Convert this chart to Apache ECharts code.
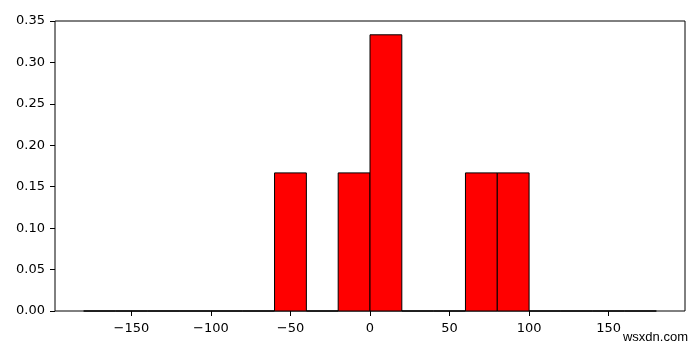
<!DOCTYPE html>
<html>
<head>
<meta charset="utf-8">
<script src="https://cdn.jsdelivr.net/npm/echarts@6/dist/echarts.min.js"></script>
<style>html,body{margin:0;padding:0;background:#fff}#c{width:700px;height:350px}</style>
</head>
<body>
<div id="c"></div>
<script>
var binEdges = [-180,-160,-140,-120,-100,-80,-60,-40,-20,0,20,40,60,80,100,120,140,160,180];
var binValues = [0,0,0,0,0,0,0.16667,0,0.16667,0.33333,0,0,0.16667,0.16667,0,0,0,0];
var xTicks = [-150,-100,-50,0,50,100,150];
var yTicks = [0,0.05,0.10,0.15,0.20,0.25,0.30,0.35];

var bars = binValues.map(function(v,i){ return [binEdges[i], binEdges[i+1], v]; });
var font = 'DejaVu Sans';

var chart = echarts.init(document.getElementById('c'), null, {renderer:'canvas'});
chart.setOption({
  animation:false,
  grid:[
    {left:55, right:15, top:21, bottom:39, show:true, borderColor:'#000', borderWidth:1, backgroundColor:'transparent'}
  ],
  xAxis:[
    {type:'value', min:-198, max:198,
     axisLine:{show:false, onZero:false}, splitLine:{show:false},
     axisTick:{show:true, length:5, customValues:xTicks, lineStyle:{color:'#000', width:1}},
     axisLabel:{show:true, margin:11, customValues:xTicks, color:'#000', fontFamily:font, fontSize:13,
       formatter:function(v){ return v<0 ? '\u2212'+(-v) : String(v); }}
    }
  ],
  yAxis:[
    {type:'value', min:0, max:0.35,
     axisLine:{show:false, onZero:false}, splitLine:{show:false},
     axisTick:{show:true, length:5, customValues:yTicks, lineStyle:{color:'#000', width:1}},
     axisLabel:{margin:10, customValues:yTicks, color:'#000', fontFamily:font, fontSize:13,
       formatter:function(v){ return v.toFixed(2); }}}
  ],
  series:[{
    type:'custom',
    data:bars,
    renderItem:function(params, api){
      var p0 = api.coord([api.value(0), api.value(2)]);
      var p1 = api.coord([api.value(1), 0]);
      return {type:'rect', shape:{x:p0[0], y:p0[1], width:p1[0]-p0[0], height:p1[1]-p0[1]},
        style:{fill:'#ff0000', stroke:'#000', lineWidth:1}};
    }
  }],
  graphic:[{type:'text', right:12, top:331, style:{text:'wsxdn.com', fill:'#000', font:'13px "Liberation Sans"'}}]
});
</script>
</body>
</html>
